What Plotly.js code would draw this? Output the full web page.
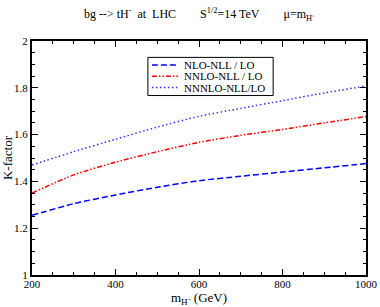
<!DOCTYPE html>
<html>
<head>
<meta charset="utf-8">
<script src="https://cdn.plot.ly/plotly-3.0.1.min.js"></script>
<style>html,body{margin:0;padding:0;background:#fff;}#chart{width:380px;height:307px;}</style>
</head>
<body>
<div id="chart"></div>
<script>
const massGeV = [200, 300, 400, 500, 600, 700, 800, 900, 1000];
const nloNll = [1.255, 1.305, 1.342, 1.375, 1.403, 1.422, 1.440, 1.458, 1.476];
const nnloNll = [1.350, 1.428, 1.482, 1.527, 1.567, 1.597, 1.622, 1.650, 1.677];
const nnnloNll = [1.470, 1.527, 1.580, 1.632, 1.678, 1.712, 1.745, 1.778, 1.808];
const seriesNames = ['NLO-NLL / LO', 'NNLO-NLL / LO', 'NNNLO-NLL/LO'];
const yTickVals = [1, 1.2, 1.4, 1.6, 1.8, 2];
const yTickText = ['1', '1.2', '1.4', '1.6', '1.8', '2'];

const serif = 'Liberation Serif, Times New Roman, serif';
const dashes = ['6px,3px', '5px,2px,1.5px,2px,1.5px,2px', '1.5px,2.5px'];
const colors = ['#0000ff', '#ff0000', '#3333ff'];
const ys = [nloNll, nnloNll, nnnloNll];

const traces = ys.map((y, i) => ({
  x: massGeV, y: y, type: 'scatter', mode: 'lines', name: seriesNames[i],
  line: {color: colors[i], width: 1.5, dash: dashes[i], shape: 'spline', smoothing: 0.6},
  showlegend: false, hoverinfo: 'skip'
}));

// manual legend (compact, like the reference)
const legX0 = 0.347, legX1 = 0.722; // paper coords
const legY0 = 0.767, legY1 = 0.93;
const shapes = [{type: 'rect', xref: 'paper', yref: 'paper', x0: legX0, x1: legX1, y0: legY0, y1: legY1,
  line: {color: '#000', width: 1}, fillcolor: '#fff'}];
const annotations = [];
const rowY = [0.897, 0.849, 0.801];
seriesNames.forEach((n, i) => {
  shapes.push({type: 'line', xref: 'paper', yref: 'paper', x0: legX0 + 0.012, x1: legX0 + 0.09,
    y0: rowY[i], y1: rowY[i], line: {color: colors[i], width: 1.5, dash: dashes[i]}});
  annotations.push({xref: 'paper', yref: 'paper', x: legX0 + 0.103, y: rowY[i], xanchor: 'left', yanchor: 'middle',
    text: n, showarrow: false, font: {family: serif, size: 11, color: '#000'}});
});

const sp = '\u00a0';
const layout = {
  width: 380, height: 307,
  margin: {l: 32, r: 14, t: 41, b: 32},
  paper_bgcolor: '#fff', plot_bgcolor: '#fff',
  font: {family: serif, size: 11, color: '#000'},
  title: {
    text: 'bg --&gt; tH<sup>-</sup>' + sp.repeat(2) + 'at' + sp.repeat(2) + 'LHC' + sp.repeat(8) + 'S<sup>1/2</sup>=14 TeV' + sp.repeat(8) + 'μ=m<sub>H⁻</sub>',
    font: {family: serif, size: 12, color: '#000'},
    x: 0.525, xanchor: 'center', y: 0.955, yanchor: 'middle'
  },
  xaxis: {
    range: [200, 1000], tickmode: 'linear', tick0: 200, dtick: 200,
    ticks: 'inside', ticklen: 6, tickwidth: 1, tickcolor: '#000',
    minor: {dtick: 50, ticks: 'inside', ticklen: 3, tickwidth: 1, tickcolor: '#000'},
    showline: true, linecolor: '#000', linewidth: 2, mirror: 'ticks',
    showgrid: false, zeroline: false, ticklabelstandoff: -2,
    tickfont: {family: serif, size: 11, color: '#000'},
    title: {text: 'm<sub>H⁻</sub> (GeV)', font: {family: serif, size: 13, color: '#000'}, standoff: 2}
  },
  yaxis: {
    range: [1, 2], tickmode: 'array', tickvals: yTickVals, ticktext: yTickText,
    ticks: 'inside', ticklen: 6, tickwidth: 1, tickcolor: '#000',
    minor: {dtick: 0.05, tick0: 1, ticks: 'inside', ticklen: 3, tickwidth: 1, tickcolor: '#000'},
    showline: true, linecolor: '#000', linewidth: 2, mirror: 'ticks',
    showgrid: false, zeroline: false,
    tickfont: {family: serif, size: 11, color: '#000'},
    title: {text: 'K-factor', font: {family: serif, size: 13, color: '#000'}, standoff: 2}
  },
  shapes: shapes,
  annotations: annotations,
  showlegend: false
};

Plotly.newPlot('chart', traces, layout, {displayModeBar: false, staticPlot: true});
</script>
</body>
</html>
